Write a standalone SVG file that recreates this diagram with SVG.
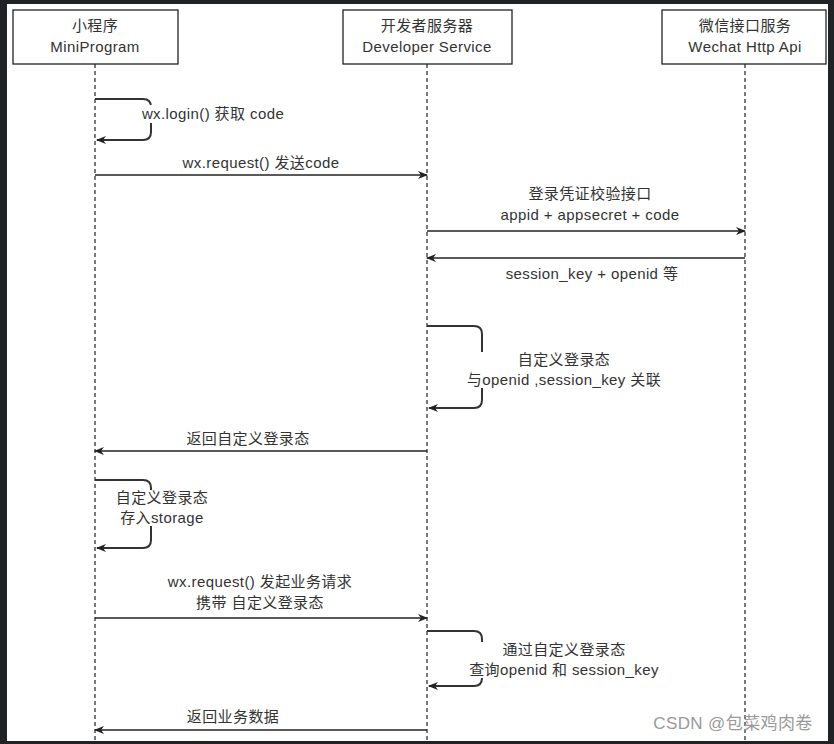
<svg xmlns="http://www.w3.org/2000/svg" width="834" height="744" viewBox="0 0 834 744">
<style>
.box{fill:#fff;stroke:#222;stroke-width:1.3}
.life{stroke:#222;stroke-width:1.2;stroke-dasharray:4 3;fill:none}
.msg{stroke:#222;stroke-width:1.3;fill:none}
.loop{stroke:#333;stroke-width:2;fill:none}
text{font-family:"Liberation Sans","Noto Sans CJK SC",sans-serif;font-size:15px;letter-spacing:0.4px;fill:#333;text-anchor:middle}
.lbl{fill:#fff;stroke:none}
</style>
<defs>
<marker id="a" markerWidth="10" markerHeight="8" refX="9" refY="4" orient="auto" markerUnits="userSpaceOnUse"><path d="M0,0 L10,4 L0,8 L3,4 z" fill="#222"/></marker>
</defs>
<rect x="0" y="0" width="834" height="744" fill="#202326"/>
<rect x="7" y="4" width="821" height="737" fill="#fff"/>
<g id="lifelines">
<line class="life" x1="95" y1="64" x2="95" y2="741"/>
<line class="life" x1="427" y1="64" x2="427" y2="741"/>
<line class="life" x1="745" y1="64" x2="745" y2="741"/>
</g>
<g id="n1"><rect class="box" x="13" y="10" width="165" height="54"/><text x="95" y="31">小程序</text><text x="95" y="52">MiniProgram</text></g>
<g id="n2"><rect class="box" x="343" y="10" width="169" height="54"/><text x="427" y="31">开发者服务器</text><text x="427" y="52">Developer Service</text></g>
<g id="n3"><rect class="box" x="662" y="10" width="164" height="54"/><text x="745" y="31">微信接口服务</text><text x="745" y="52">Wechat Http Api</text></g>
<g id="connectors">
<path class="loop" d="M95,99 H143 Q151,99 151,107 V132 Q151,140 143,140 H97" marker-end="url(#a)"/>
<line class="msg" x1="95" y1="175" x2="427" y2="175" marker-end="url(#a)"/>
<line class="msg" x1="427" y1="231" x2="745" y2="231" marker-end="url(#a)"/>
<line class="msg" x1="745" y1="258" x2="427" y2="258" marker-end="url(#a)"/>
<path class="loop" d="M427,326 H474 Q482,326 482,334 V400 Q482,408 474,408 H429" marker-end="url(#a)"/>
<line class="msg" x1="427" y1="451" x2="95" y2="451" marker-end="url(#a)"/>
<path class="loop" d="M95,480 H143 Q151,480 151,488 V540 Q151,548 143,548 H97" marker-end="url(#a)"/>
<line class="msg" x1="95" y1="618" x2="427" y2="618" marker-end="url(#a)"/>
<path class="loop" d="M427,631 H474 Q482,631 482,639 V678 Q482,686 474,686 H429" marker-end="url(#a)"/>
<line class="msg" x1="427" y1="730" x2="95" y2="730" marker-end="url(#a)"/>
</g>
<g id="labels">
<rect class="lbl" x="138" y="105" width="152" height="18"/>
<text x="213" y="119">wx.login() 获取 code</text>
<text x="261" y="168">wx.request() 发送code</text>
<text x="590" y="199">登录凭证校验接口</text>
<text x="590" y="220">appid + appsecret + code</text>
<text x="592" y="279">session_key + openid 等</text>
<rect class="lbl" x="458" y="352" width="212" height="36"/>
<text x="564" y="365">自定义登录态</text>
<text x="564" y="385">与openid ,session_key 关联</text>
<text x="248" y="444">返回自定义登录态</text>
<rect class="lbl" x="105" y="490" width="110" height="36"/>
<text x="162" y="503">自定义登录态</text>
<text x="162" y="523">存入storage</text>
<text x="260" y="587">wx.request() 发起业务请求</text>
<text x="260" y="608">携带 自定义登录态</text>
<rect class="lbl" x="462" y="642" width="204" height="36"/>
<text x="564" y="655">通过自定义登录态</text>
<text x="564" y="675">查询openid 和 session_key</text>
<text x="233" y="722">返回业务数据</text>
<text x="733" y="729" style="fill:#999;font-size:17px">CSDN @包菜鸡肉卷</text>
</g>
</svg>
